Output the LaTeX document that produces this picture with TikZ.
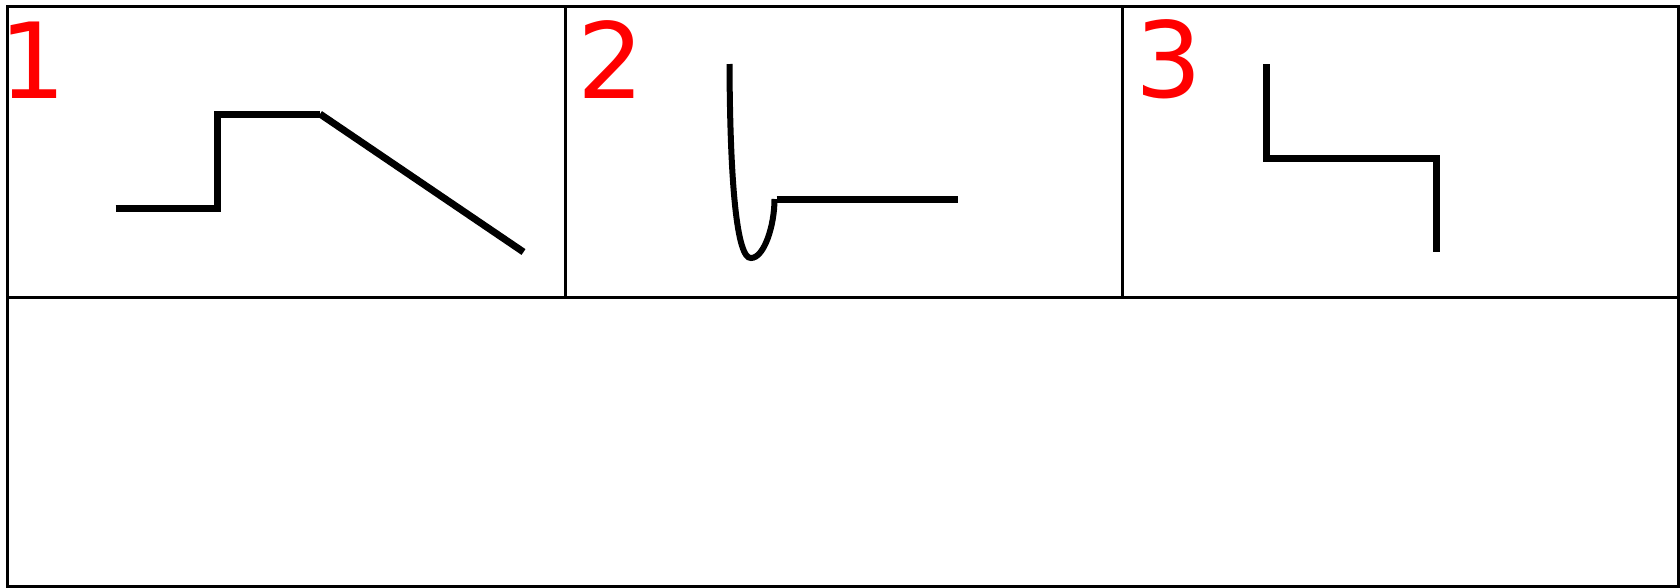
\documentclass[tikz,border=0pt]{standalone}
\usepackage{fontspec}
\setmainfont{DejaVu Sans}
\begin{document}
\begin{tikzpicture}[x=1pt,y=-1pt,
  frame/.style={draw=black,line width=3pt},
  stroke/.style={draw=black,line width=7pt},
  num/.style={text=red,font=\fontsize{105}{105}\selectfont,inner sep=0pt}]
\useasboundingbox (0,0) rectangle (1680,587);
% frame
\coordinate (tl) at (7.5,6);
\coordinate (br) at (1678,586);
\draw[frame] (tl) rectangle (br);
\coordinate (hl) at (7.5,297);
\coordinate (hr) at (1678,297);
\draw[frame] (hl) -- (hr);
\coordinate (v1t) at (565,6);
\coordinate (v1b) at (565,297);
\coordinate (v2t) at (1122.5,6);
\coordinate (v2b) at (1122.5,297);
\draw[frame] (v1t) -- (v1b);
\draw[frame] (v2t) -- (v2b);
% labels
\node[num] (n1) at (32.6,60) {1};
\node[num] (n2) at (611,60) {2};
\node[num] (n3) at (1169,59) {3};
% panel 1
\coordinate (a1) at (115.5,208);
\coordinate (a2) at (217.5,208);
\coordinate (a3) at (217.5,114);
\coordinate (a4) at (320,114);
\coordinate (a5) at (523.5,252);
\draw[stroke] (a1) -- (a2) -- (a3) -- (a4);
\draw[stroke] (a4) -- (a5);
% panel 2
\coordinate (b1) at (729.5,64);
\coordinate (b2) at (751,258);
\coordinate (b3) at (774.5,199);
\coordinate (b4) at (776.5,199);
\coordinate (b5) at (958,199);
\draw[stroke,line width=6pt] (b1) .. controls (730,185) and (737,259) .. (b2)
  .. controls (764,258) and (774.5,226) .. (b3);
\draw[stroke] (b4) -- (b5);
% panel 3
\coordinate (c1) at (1266,64);
\coordinate (c2) at (1266,158);
\coordinate (c3) at (1436,158);
\coordinate (c4) at (1436,252);
\draw[stroke] (c1) -- (c2) -- (c3) -- (c4);
\end{tikzpicture}
\end{document}
